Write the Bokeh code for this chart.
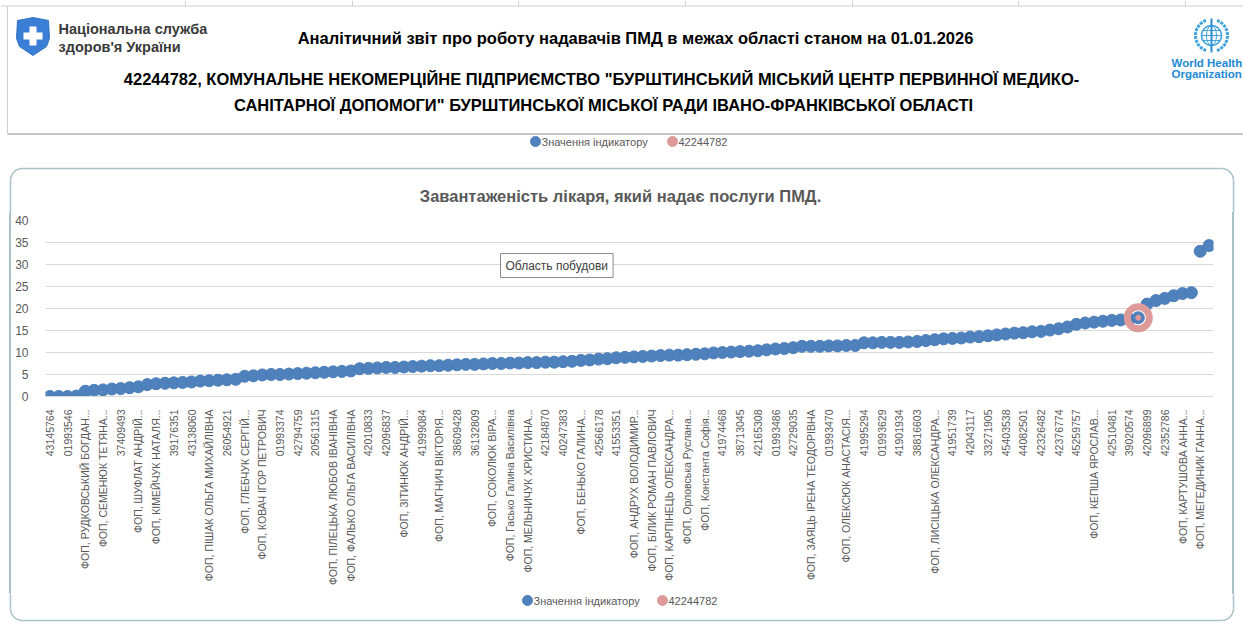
import math
from bokeh.plotting import figure
from bokeh.models import Range1d, FixedTicker, Label, ColumnDataSource
from bokeh.core.properties import value
from bokeh.embed import file_html
from bokeh.resources import INLINE

# ---------------- data ----------------
report_title = "Аналітичний звіт про роботу надавачів ПМД в межах області станом на 01.01.2026"
subtitle_line1 = "42244782, КОМУНАЛЬНЕ НЕКОМЕРЦІЙНЕ ПІДПРИЄМСТВО \"БУРШТИНСЬКИЙ МІСЬКИЙ ЦЕНТР ПЕРВИННОЇ МЕДИКО-"
subtitle_line2 = "САНІТАРНОЇ ДОПОМОГИ\" БУРШТИНСЬКОЇ МІСЬКОЇ РАДИ ІВАНО-ФРАНКІВСЬКОЇ ОБЛАСТІ"
nhsu_lines = ["Національна служба", "здоров'я України"]
who_lines = ["World Health", "Organization"]
chart_title = "Завантаженість лікаря, який надає послуги ПМД."
series_name = "Значення індикатору"
highlight_name = "42244782"
highlight_index = 123
plot_area_tip = "Область побудови"

# labels shown on the category axis (every second category)
tick_labels = [
    "43145764", "01993546", "ФОП, РУДКОВСЬКИЙ БОГДАН...", "ФОП, СЕМЕНЮК ТЕТЯНА...",
    "37409493", "ФОП, ШУФЛАТ АНДРІЙ...", "ФОП, КІМЕЙЧУК НАТАЛЯ...", "39176351",
    "43138060", "ФОП, ПІШАК ОЛЬГА МИХАЙЛІВНА", "26054921", "ФОП, ГЛЕБЧУК СЕРГІЙ...",
    "ФОП, КОВАЧ ІГОР ПЕТРОВИЧ", "01993374", "42794759", "20561315",
    "ФОП, ПІЛЕЦЬКА ЛЮБОВ ІВАНІВНА", "ФОП, ФАЛЬКО ОЛЬГА ВАСИЛІВНА", "42010833", "42096837",
    "ФОП, ЗІТИНЮК АНДРІЙ...", "41999084", "ФОП, МАГНИЧ ВІКТОРІЯ...", "38609428",
    "36132809", "ФОП, СОКОЛЮК ВІРА...", "ФОП, Гасько Галина Василівна", "ФОП, МЕЛЬНИЧУК ХРИСТИНА...",
    "42184870", "40247383", "ФОП, БЕНЬКО ГАЛИНА...", "42566178",
    "41553351", "ФОП, АНДРУХ ВОЛОДИМИР...", "ФОП, БІЛИК РОМАН ПАВЛОВИЧ", "ФОП, КАРПІНЕЦЬ ОЛЕКСАНДРА...",
    "ФОП, Орловська Руслана...", "ФОП, Константа Софія...", "41974468", "38713045",
    "42165308", "01993486", "42729035", "ФОП, ЗАЯЦЬ ІРЕНА ТЕОДОРІВНА",
    "01993470", "ФОП, ОЛЕКСЮК АНАСТАСІЯ...", "41995294", "01993629",
    "41901934", "38816603", "ФОП, ЛИСІЦЬКА ОЛЕКСАНДРА...", "41951739",
    "42043117", "33271905", "45403538", "44082501",
    "42326482", "42376774", "45259757", "ФОП, КЕПША ЯРОСЛАВ...",
    "42510481", "39020574", "42096899", "42352786",
    "ФОП, КАРТУШОВА АННА...", "ФОП, МЕГЕДИНИК ГАННА...",
]

values = [
    0, 0, 0, 0.1, 1.2, 1.4, 1.5, 1.7, 1.8, 2.0,
    2.2, 2.7, 2.9, 3.0, 3.1, 3.2, 3.3, 3.5, 3.6, 3.7,
    3.8, 3.9, 4.6, 4.7, 4.9, 5.0, 5.0, 5.1, 5.2, 5.3,
    5.4, 5.5, 5.6, 5.7, 5.8, 6.3, 6.4, 6.5, 6.6, 6.6,
    6.7, 6.8, 6.9, 7.0, 7.0, 7.1, 7.2, 7.3, 7.3, 7.4,
    7.5, 7.5, 7.6, 7.6, 7.7, 7.7, 7.8, 7.8, 7.9, 8.0,
    8.2, 8.3, 8.5, 8.6, 8.8, 8.9, 9.0, 9.1, 9.2, 9.3,
    9.4, 9.4, 9.5, 9.6, 9.7, 9.9, 10.0, 10.1, 10.2, 10.3,
    10.4, 10.6, 10.8, 10.9, 11.1, 11.4, 11.4, 11.4, 11.5, 11.5,
    11.6, 11.6, 12.2, 12.2, 12.3, 12.3, 12.3, 12.4, 12.5, 12.7,
    12.9, 13.1, 13.2, 13.3, 13.5, 13.6, 13.8, 14.0, 14.2, 14.4,
    14.5, 14.7, 14.8, 15.1, 15.4, 15.8, 16.4, 16.7, 16.9, 17.1,
    17.3, 17.4, 17.5, 17.9, 21.0, 21.8, 22.3, 22.9, 23.4, 23.6,
    33.0, 34.3,
]

y_ticks = [0, 5, 10, 15, 20, 25, 30, 35, 40]

# ---------------- styling ----------------
FONT = "Liberation Sans"
BLUE = "#4f81bd"
BLUE_EDGE = "#4a7ebb"
PINK = "#dd9a98"
GRAY_TXT = "#595959"
GRID = "#d9d9d9"
FRAME_C = "#a9c2c6"
W = 1243
H_HDR = 212
H_CHART = 382
H_LEG = 34


def sheet_figure(height):
    f = figure(width=W, height=height, x_range=Range1d(0, W), y_range=Range1d(height, 0),
               output_backend="svg", toolbar_location=None, min_border=0,
               outline_line_color=None, background_fill_color="white",
               border_fill_color="white")
    f.axis.visible = False
    f.grid.visible = False
    return f


# ---------------- header (sheet top + chart title) ----------------
hdr = sheet_figure(H_HDR)

# sheet cell borders
hdr.segment(x0=[0, 7], y0=[5.5, 5.5], x1=[W, 7], y1=[5.5, 133], line_color="#cfcfcf", line_width=1)
hdr.segment(x0=[185, 352, 518, 685, 852, 1018, 1185], y0=[0] * 7,
            x1=[185, 352, 518, 685, 852, 1018, 1185], y1=[5] * 7, line_color="#cfcfcf", line_width=1)

# NHSU shield logo
hdr.patch([17, 32.5, 48, 49, 46, 32.5, 19, 16], [20, 17, 20, 38, 46, 55, 46, 38],
          fill_color="#3a7fd5", line_color="#3274c8", line_width=1)
hdr.rect(x=[32.5, 32.5], y=[35.5, 35.5], width=[19, 7], height=[7, 19],
         fill_color="white", line_color=None)
hdr.text(x=[58, 58], y=[28, 46], text=nhsu_lines, text_font=value(FONT),
         text_font_size=value("14.5px"), text_font_style="bold", text_color="#3a3a3a",
         text_align="left", text_baseline="middle")

# report titles
hdr.text(x=[635], y=[37], text=[report_title], text_font=value(FONT),
         text_font_size=value("16.5px"), text_font_style="bold", text_color="black",
         text_align="center", text_baseline="middle")
hdr.text(x=[601], y=[78], text=[subtitle_line1], text_font=value(FONT),
         text_font_size=value("16.5px"), text_font_style="bold", text_color="black",
         text_align="center", text_baseline="middle")
hdr.text(x=[603], y=[104], text=[subtitle_line2], text_font=value(FONT),
         text_font_size=value("16.5px"), text_font_style="bold", text_color="black",
         text_align="center", text_baseline="middle")

# WHO emblem
WHO = "#3fa3de"
cx, cy = 1211, 35
hdr.circle(x=[cx], y=[cy], radius=10, fill_color=None, line_color=WHO, line_width=1.5)
hdr.ellipse(x=[cx], y=[cy], width=10, height=20, fill_color=None, line_color=WHO, line_width=1)
hdr.segment(x0=[cx - 9, cx - 10, cx - 9], y0=[cy - 5, cy, cy + 5], x1=[cx + 9, cx + 10, cx + 9],
            y1=[cy - 5, cy, cy + 5], line_color=WHO, line_width=1)
hdr.segment(x0=[cx], y0=[cy - 17], x1=[cx], y1=[cy + 17], line_color="#2b8fd0", line_width=2)
hdr.arc(x=[cx, cx], y=[cy, cy], radius=16, start_angle=[math.radians(110), math.radians(-70)],
        end_angle=[math.radians(250), math.radians(70)], line_color=WHO, line_width=3,
        line_dash="3 1")
hdr.text(x=[1171, 1171], y=[62, 73], text=who_lines, text_font=value(FONT),
         text_font_size=value("11.5px"), text_font_style="bold", text_color="#1d8ad3",
         text_align="left", text_baseline="middle")

# separator line of the sheet
hdr.segment(x0=[7], y0=[133.5], x1=[W], y1=[133.5], line_color="#8f8f8f", line_width=1)

# legend strip of the upper (cut-off) chart
hdr.scatter(x=[535, 672], y=[141, 141], size=10, fill_color=[BLUE, PINK], line_color=[BLUE, PINK])
hdr.text(x=[541, 678], y=[141, 141], text=[series_name, highlight_name], text_font=value(FONT),
         text_font_size=value("11px"), text_color=GRAY_TXT, text_align="left",
         text_baseline="middle")

# top part of the chart's rounded frame
hdr.segment(x0=[22, 10, 1233], y0=[168, 180, 180], x1=[1221, 10, 1233], y1=[168, H_HDR, H_HDR],
            line_color=FRAME_C, line_width=1.5)
hdr.arc(x=[22, 1221], y=[180, 180], radius=12,
        start_angle=[math.radians(90), math.radians(0)],
        end_angle=[math.radians(180), math.radians(90)], line_color=FRAME_C, line_width=1.5)

# chart title
hdr.text(x=[620], y=[195], text=[chart_title], text_font=value(FONT),
         text_font_size=value("16.5px"), text_font_style="bold", text_color=GRAY_TXT,
         text_align="center", text_baseline="middle")

# ---------------- chart ----------------
n = len(values)
src = ColumnDataSource(dict(x=list(range(n)), y=values))
hsrc = ColumnDataSource(dict(x=[highlight_index], y=[values[highlight_index]]))

side_lines = ("linear-gradient(to right, transparent 9.25px, {c} 9.25px, {c} 10.75px, "
              "transparent 10.75px, transparent 1232.25px, {c} 1232.25px, {c} 1233.75px, "
              "transparent 1233.75px), white").format(c=FRAME_C)

p = figure(width=W, height=H_CHART, x_range=Range1d(-0.5, n - 0.5), y_range=Range1d(0, 40),
           output_backend="svg", toolbar_location=None,
           min_border_left=45, min_border_right=30, min_border_top=8, min_border_bottom=198,
           outline_line_color=None, background_fill_color="white", border_fill_alpha=0,
           stylesheets=[":host { background: %s; }" % side_lines])

p.scatter("x", "y", source=src, size=12, fill_color=BLUE, line_color=BLUE_EDGE, line_width=1)
p.scatter("x", "y", source=hsrc, size=22, fill_color=None, line_color=PINK, line_width=7)
p.scatter("x", "y", source=hsrc, size=5, fill_color=PINK, line_color=PINK)

# axes
p.yaxis.ticker = FixedTicker(ticks=y_ticks)
p.yaxis.axis_line_color = None
p.yaxis.major_tick_line_color = None
p.yaxis.minor_tick_line_color = None
p.yaxis.major_label_text_font = FONT
p.yaxis.major_label_text_font_size = "12px"
p.yaxis.major_label_text_color = GRAY_TXT
p.yaxis.major_label_standoff = 11

p.xaxis.ticker = FixedTicker(ticks=[2 * k for k in range(len(tick_labels))])
p.xaxis.major_label_overrides = {2 * k: lab for k, lab in enumerate(tick_labels)}
p.xaxis.major_label_orientation = math.pi / 2
p.xaxis.axis_line_color = GRID
p.xaxis.major_tick_line_color = None
p.xaxis.minor_tick_line_color = None
p.xaxis.major_label_text_font = FONT
p.xaxis.major_label_text_font_size = "10.5px"
p.xaxis.major_label_text_color = GRAY_TXT
p.xaxis.major_label_standoff = 7

p.xgrid.visible = False
p.ygrid.grid_line_color = GRID
p.ygrid.grid_line_width = 1

# "plot area" tooltip box (inside the plot area)
p.add_layout(Label(x=457, y=117, x_units="screen", y_units="screen", text=plot_area_tip,
                   text_font=FONT, text_font_size="12px", text_color=GRAY_TXT, text_alpha=0,
                   text_align="left", text_baseline="bottom", padding=5,
                   background_fill_color="#9a9a9a", border_line_color=None))
p.add_layout(Label(x=455, y=119, x_units="screen", y_units="screen", text=plot_area_tip,
                   text_font=FONT, text_font_size="12px", text_color="#404040",
                   text_align="left", text_baseline="bottom", padding=5,
                   background_fill_color="white", border_line_color="#8c8c8c"))

# ---------------- chart legend strip + bottom of frame ----------------
leg = sheet_figure(H_LEG)
leg.scatter(x=[527, 662], y=[6, 6], size=10, fill_color=[BLUE, PINK], line_color=[BLUE, PINK])
leg.text(x=[533, 668], y=[6, 6], text=[series_name, highlight_name], text_font=value(FONT),
         text_font_size=value("11px"), text_color=GRAY_TXT, text_align="left",
         text_baseline="middle")
leg.segment(x0=[10, 1233, 22], y0=[0, 0, 26], x1=[10, 1233, 1221], y1=[14, 14, 26],
            line_color=FRAME_C, line_width=1.5)
leg.arc(x=[22, 1221], y=[14, 14], radius=12,
        start_angle=[math.radians(180), math.radians(270)],
        end_angle=[math.radians(270), math.radians(360)], line_color=FRAME_C, line_width=1.5)

open("out.html", "w").write(file_html([hdr, p, leg], INLINE))
